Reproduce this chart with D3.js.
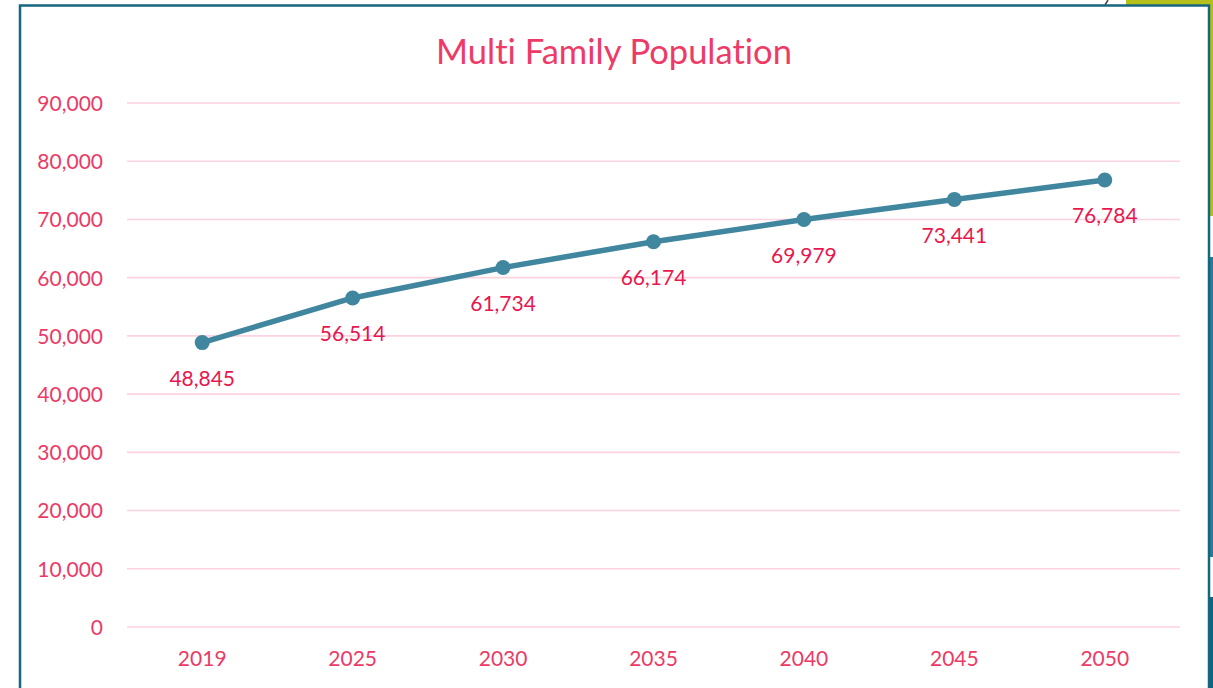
<!DOCTYPE html>
<html><head><meta charset="utf-8">
<script src="https://d3js.org/d3.v7.min.js"></script>
<style>html,body{margin:0;padding:0;background:#fff;overflow:hidden} text{font-variant-ligatures:none}</style>
</head><body>
<svg id="c" width="1213" height="688"></svg>
<script>
const categories = ["2019","2025","2030","2035","2040","2045","2050"];
const values = [48845, 56514, 61734, 66174, 69979, 73441, 76784];
const yTicks = [0,10000,20000,30000,40000,50000,60000,70000,80000,90000];
const title = "Multi Family Population";

const svg = d3.select("#c");
const font = "Lato, 'Open Sans', sans-serif";

// decorative background pieces on the right edge
svg.append("rect").attr("x",1126).attr("y",0).attr("width",87).attr("height",6).attr("fill","#b5c01a");
svg.append("rect").attr("x",1208).attr("y",0).attr("width",5).attr("height",216).attr("fill","#b5c01a");
svg.append("rect").attr("x",1208).attr("y",257).attr("width",5).attr("height",300).attr("fill","#2a7a97");
svg.append("rect").attr("x",1208).attr("y",597).attr("width",5).attr("height",91).attr("fill","#0d6680");
svg.append("line").attr("x1",1108).attr("y1",0).attr("x2",1105).attr("y2",5).attr("stroke","#444").attr("stroke-width",1.5);

// chart frame
svg.append("rect").attr("x",20).attr("y",5.5).attr("width",1189).attr("height",700)
  .attr("fill","#fff").attr("stroke","#16667f").attr("stroke-width",2.5);

const x = d3.scaleBand().domain(categories).range([127,1180]);
const y = d3.scaleLinear().domain([0,90000]).range([627,103]);

// gridlines
svg.append("g").selectAll("line").data(yTicks).join("line")
  .attr("x1",127).attr("x2",1180)
  .attr("y1",d=>y(d)).attr("y2",d=>y(d))
  .attr("stroke","#fcd3de").attr("stroke-width",1.6);

// y axis
const yAxis = d3.axisLeft(y).tickValues(yTicks).tickSize(0).tickPadding(0).tickFormat(d3.format(","));
const ga = svg.append("g").attr("transform","translate(103,0)").call(yAxis);
ga.select(".domain").remove();
ga.selectAll("text").attr("font-family",font).attr("font-size",21).attr("fill","#ec3a66").attr("dy","0.35em");

// x axis
const xAxis = d3.axisBottom(x).tickSize(0).tickPadding(0);
const gx = svg.append("g").attr("transform","translate(0,659)").call(xAxis);
gx.select(".domain").remove();
gx.selectAll("text").attr("font-family",font).attr("font-size",21).attr("fill","#ec3a66").attr("dy","0.35em");

// title
svg.append("text").attr("x",614).attr("y",50).attr("text-anchor","middle").attr("dominant-baseline","central")
  .attr("font-family",font).attr("font-size",34.5).attr("fill","#ee3a66").text(title);

const cx = d=>x(d)+x.bandwidth()/2;
const line = d3.line().x((d,i)=>cx(categories[i])).y(d=>y(d));
svg.append("path").datum(values).attr("d",line).attr("fill","none")
  .attr("stroke","#40869e").attr("stroke-width",5.5).attr("stroke-linejoin","round");

svg.append("g").selectAll("circle").data(values).join("circle")
  .attr("cx",(d,i)=>cx(categories[i])).attr("cy",d=>y(d)).attr("r",7.5).attr("fill","#40869e");

svg.append("g").selectAll("text").data(values).join("text")
  .attr("x",(d,i)=>cx(categories[i])).attr("y",d=>y(d)+35)
  .attr("text-anchor","middle").attr("dominant-baseline","central")
  .attr("font-family",font).attr("font-size",21).attr("fill","#e8174f")
  .text(d=>d3.format(",")(d));
</script>
</body></html>
